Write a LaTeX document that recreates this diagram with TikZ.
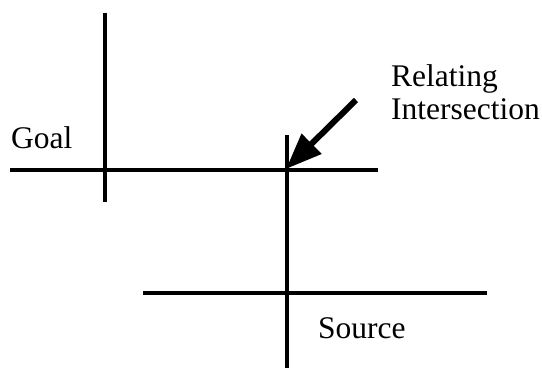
\documentclass[tikz,border=0pt]{standalone}
\usepackage{fontspec}
\setmainfont{Liberation Serif}
\usetikzlibrary{arrows.meta}
\tikzset{
  axisline/.style={line width=3.2pt, black},
  lbl/.style={anchor=base west, inner sep=0pt, font=\fontsize{31.5}{33}\selectfont},
  bigarrow/.style={line width=6pt, -{Triangle[length=36pt,width=27pt]}}
}
\begin{document}
\begin{tikzpicture}[x=1pt,y=-1pt]
\useasboundingbox (0,0) rectangle (542,372);
% goal cross
\coordinate (g1) at (105,13);
\coordinate (g2) at (105,202);
\coordinate (g3) at (10,170);
\coordinate (g4) at (378,170);
\draw[axisline] (g1) -- (g2);
\draw[axisline] (g3) -- (g4);
% source cross
\coordinate (s1) at (287,135);
\coordinate (s2) at (287,368);
\coordinate (s3) at (143,293);
\coordinate (s4) at (487,293);
\draw[axisline] (s1) -- (s2);
\draw[axisline] (s3) -- (s4);
% labels
\node[lbl] (goal) at (11,148) {Goal};
\node[lbl] (rel) at (391,86) {Relating};
\node[lbl] (inter) at (391,119) {Intersection};
\node[lbl] (source) at (318,338) {Source};
% arrow
\coordinate (tail) at (356,100);
\coordinate (tip) at (286,169);
\draw[bigarrow] (tail) -- (tip);
\end{tikzpicture}
\end{document}
